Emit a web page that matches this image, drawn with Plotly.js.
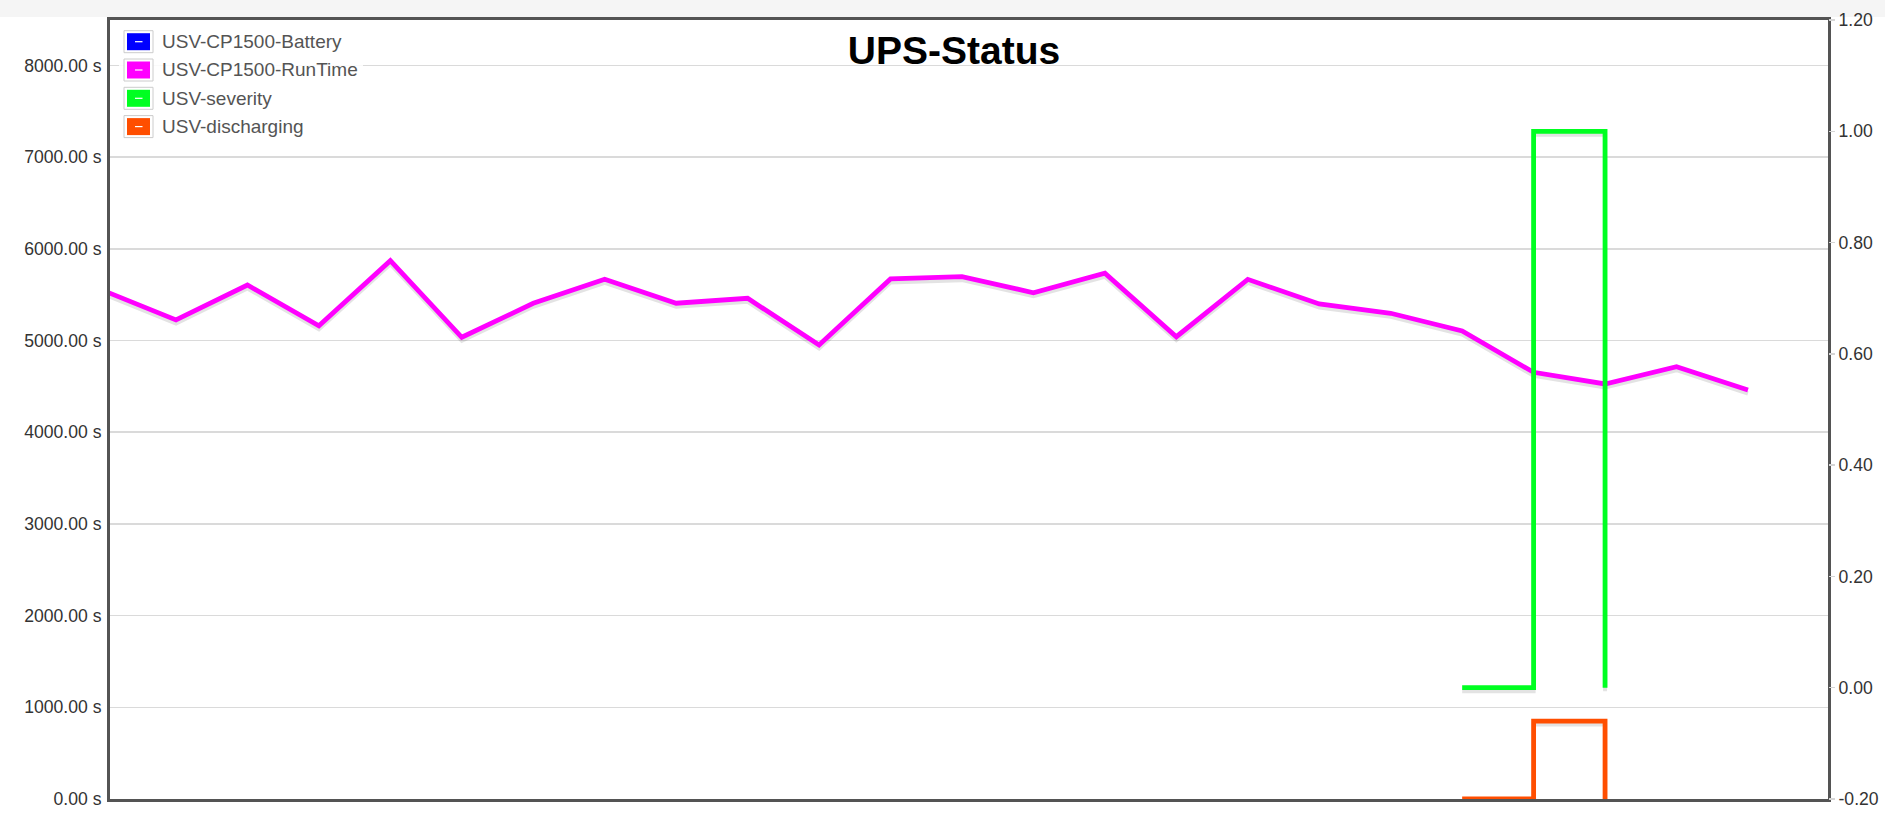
<!DOCTYPE html>
<html>
<head>
<meta charset="utf-8">
<script src="https://cdn.plot.ly/plotly-3.0.1.min.js"></script>
<style>
html,body{margin:0;padding:0;background:#fff;overflow:hidden}
#chart{width:1885px;height:829px}
</style>
</head>
<body>
<div id="chart"></div>
<script>
// ---------------- data ----------------
const seriesNames = ['USV-CP1500-Battery', 'USV-CP1500-RunTime', 'USV-severity', 'USV-discharging'];
const seriesColors = ['#0000ff', '#ff00ff', '#00ff21', '#ff4e00'];
const sampleIndex = [0,1,2,3,4,5,6,7,8,9,10,11,12,13,14,15,16,17,18,19,20,21,22,23];
const batteryValues = [];
const runTimeSeconds = [5539,5224,5605,5161,5870,5035,5406,5667,5406,5460,4951,5671,5696,5521,5733,5041,5667,5398,5297,5104,4653,4526,4714,4460];
const statusIndex = [19,20,21];
const severityValues = [0,1,0];
const dischargingValues = [0,1,0];
const leftTickValues = [0,1000,2000,3000,4000,5000,6000,7000,8000];
const rightTickValues = [-0.2,0,0.2,0.4,0.6,0.8,1.0,1.2];
const leftTickText = leftTickValues.map(v => v.toFixed(2) + ' s');
const rightTickText = rightTickValues.map(v => v.toFixed(2));
const chartTitle = 'UPS-Status';

// ---------------- layout geometry ----------------
const W = 1885, H = 829;
const M = {l:110, r:57, t:20, b:30};
const plotW = W - M.l - M.r, plotH = H - M.t - M.b;
const xRange = [0.0765, 24.12];
const leftRange = [0, 8495];
const rightRange = [-0.2, 1.2];
const dischargeRange = [0, 10];
const shadowPx = 3.5;
function shifted(r){ const d = shadowPx*(r[1]-r[0])/plotH; return [r[0]+d, r[1]+d]; }
function px(x){ return (x - M.l)/plotW; }
function py(y){ return (H - M.b - y)/plotH; }

const font = 'Liberation Sans, Arial, Helvetica, sans-serif';
const hidden = {visible:false, overlaying:'y', fixedrange:true, showgrid:false, zeroline:false};

const shadowLine = {color:'rgba(0,0,0,0.11)', width:4};
const mainW = 4.8;

const traces = [
  {x:[], y:batteryValues, yaxis:'y', name:seriesNames[0], mode:'lines', line:{color:seriesColors[0], width:mainW}, showlegend:false},
  // shadows (drawn before the main lines, on shifted hidden axes)
  {x:sampleIndex, y:runTimeSeconds, yaxis:'y2', mode:'lines', line:shadowLine, hoverinfo:'skip', showlegend:false},
  {x:statusIndex, y:severityValues, yaxis:'y3', mode:'lines', line:Object.assign({shape:'hv'}, shadowLine), hoverinfo:'skip', showlegend:false},
  {x:statusIndex, y:dischargingValues, yaxis:'y4', mode:'lines', line:Object.assign({shape:'hv'}, shadowLine), hoverinfo:'skip', showlegend:false},
  // main series
  {x:sampleIndex, y:runTimeSeconds, yaxis:'y5', name:seriesNames[1], mode:'lines', line:{color:seriesColors[1], width:mainW}, showlegend:false},
  {x:statusIndex, y:severityValues, yaxis:'y6', name:seriesNames[2], mode:'lines', line:{color:seriesColors[2], width:mainW, shape:'hv'}, showlegend:false},
  {x:statusIndex, y:dischargingValues, yaxis:'y7', name:seriesNames[3], mode:'lines', line:{color:seriesColors[3], width:mainW, shape:'hv'}, showlegend:false}
];

// legend built from names/colours
const shapes = [
  {type:'rect', xref:'paper', yref:'paper', x0:px(0), x1:px(W), y0:py(17), y1:py(0), fillcolor:'#f5f5f5', line:{width:0}, layer:'below'},
  {type:'rect', xref:'paper', yref:'paper', x0:px(119), x1:px(363), y0:py(140), y1:py(27), fillcolor:'rgba(255,255,255,0.85)', line:{width:0}, layer:'above'}
];
const annotations = [];
seriesNames.forEach((name, k) => {
  const cy = 41.7 + k*28.3;
  shapes.push({type:'rect', xref:'paper', yref:'paper', x0:px(124), x1:px(153), y0:py(cy+11), y1:py(cy-11), fillcolor:'#ffffff', line:{color:'#cccccc', width:1}, layer:'above'});
  shapes.push({type:'rect', xref:'paper', yref:'paper', x0:px(127), x1:px(150), y0:py(cy+8.5), y1:py(cy-8.5), fillcolor:seriesColors[k], line:{width:0}, layer:'above'});
  shapes.push({type:'line', xref:'paper', yref:'paper', x0:px(135), x1:px(142.5), y0:py(cy), y1:py(cy), line:{color:'#ffffff', width:1.2}, layer:'above'});
  annotations.push({xref:'paper', yref:'paper', x:px(160), y:py(cy), xanchor:'left', yanchor:'middle', text:name, showarrow:false, font:{family:font, size:19, color:'#545454'}});
});

const layout = {
  width:W, height:H,
  margin:M,
  paper_bgcolor:'#ffffff', plot_bgcolor:'#ffffff',
  showlegend:false,
  title:{text:chartTitle, font:{family:font, size:39, color:'#000000', weight:'bold'}, x:954/W, xref:'container', xanchor:'center', y:1-50/H, yref:'container', yanchor:'middle'},
  xaxis:{range:xRange, showticklabels:false, ticks:'', showgrid:false, zeroline:false, showline:true, mirror:true, linewidth:3, linecolor:'#545454', fixedrange:true},
  yaxis:{range:leftRange, tickmode:'array', tickvals:leftTickValues, ticktext:leftTickText, ticks:'', ticklabelstandoff:2, showgrid:true, gridcolor:'#dadada', gridwidth:1.5, zeroline:false, showline:true, mirror:true, linewidth:3, linecolor:'#545454', tickfont:{family:font, size:17.6, color:'#333333'}, fixedrange:true},
  yaxis2:Object.assign({range:shifted(leftRange)}, hidden),
  yaxis3:Object.assign({range:shifted(rightRange)}, hidden),
  yaxis4:Object.assign({range:shifted(dischargeRange)}, hidden),
  yaxis5:Object.assign({range:leftRange}, hidden),
  yaxis6:{range:rightRange, overlaying:'y', side:'right', anchor:'x', tickmode:'array', tickvals:rightTickValues, ticktext:rightTickText, ticks:'outside', ticklen:6, tickwidth:1.5, tickcolor:'#d5d5d5', showgrid:false, zeroline:false, showline:false, tickfont:{family:font, size:17.6, color:'#333333'}, fixedrange:true},
  yaxis7:Object.assign({range:dischargeRange}, hidden),
  shapes:shapes,
  annotations:annotations
};

Plotly.newPlot('chart', traces, layout, {displayModeBar:false, staticPlot:true});
</script>
</body>
</html>
